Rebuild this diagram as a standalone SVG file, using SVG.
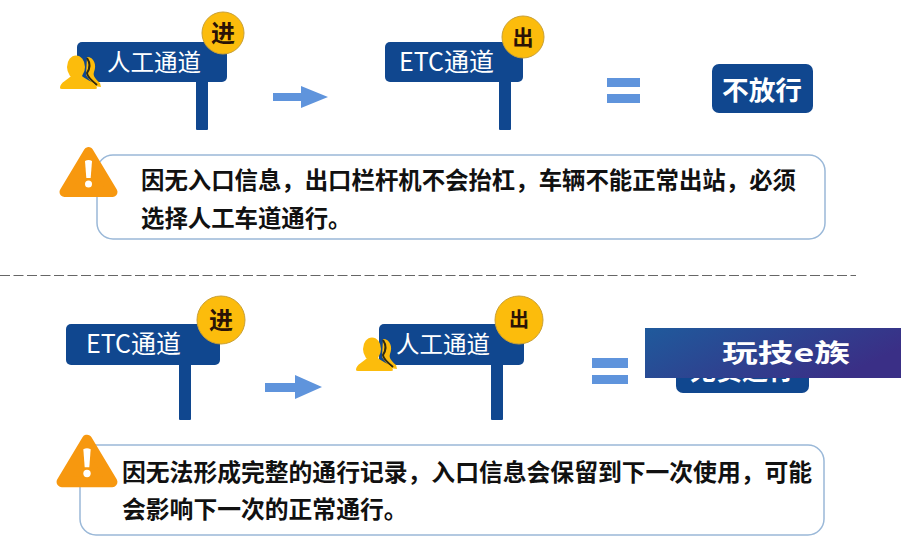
<svg xmlns="http://www.w3.org/2000/svg" width="901" height="555" viewBox="0 0 901 555">
<defs>
<linearGradient id="bannerGrad" x1="0" y1="0" x2="1" y2="0.4"><stop offset="0" stop-color="#1f5a9c"/><stop offset="1" stop-color="#3a2f86"/></linearGradient>
<g id="person"><path d="M9 -22 C16 -22 19 -14 16 -7 C15 -4 16 -1 22 4 L23 8 L16 7 L8 -4 Z" fill="#fcbc0c"/><path d="M9 -21 C13 -15 11 -9 9 -6 C9 -2 14 2 19 6" fill="none" stroke="#2f2a12" stroke-width="2"/><ellipse cx="-2" cy="-12" rx="9" ry="11.500" fill="#fcbc0c"/><path d="M-18 9 C-18 3 -10 1 -6 -4 L3 -4 C7 1 18 3 19 9 Q19 10 17 10 H-16 Q-18 10 -18 9 Z" fill="#fcbc0c"/></g>
<g id="warn"><path d="M0 -22 L24 18 H-24 Z" fill="#f7980f" stroke="#f7980f" stroke-width="10" stroke-linejoin="round"/><path d="M-3.500 -13 Q0 -15 3.500 -13 L2.200 4 H-2.200 Z" fill="#fff"/><circle cx="0" cy="10" r="3.500" fill="#fff"/></g>
</defs>
<style>
text{font-family:"Noto Sans CJK SC","Liberation Sans",sans-serif}
.navy{fill:#10478f}
.sign{fill:#fff;font-size:23.500px;text-anchor:middle}
.badge{fill:#fcbc0c;stroke:#c9a035;stroke-width:1}
.bt{fill:#2a1206;font-weight:700;text-anchor:middle}
.box{fill:#fff;stroke:#9ab8d8;stroke-width:1.500}
.body{fill:#111;font-weight:700}
.blue{fill:#5f94dc}
</style>
<rect width="901" height="555" fill="#fff"/>
<g id="sign-in-1"><rect class="navy" x="196" y="80" width="12" height="50" rx="1"/><rect class="navy" x="77" y="42" width="150" height="40" rx="5"/><text class="sign" x="154" y="71">人工通道</text><use href="#person" x="78" y="79"/><circle class="badge" cx="223" cy="33" r="21"/><text class="bt" font-size="24" x="223" y="42">进</text></g>
<g id="sign-out-1"><rect class="navy" x="499" y="80" width="12" height="50" rx="1"/><rect class="navy" x="385" y="42" width="138" height="40" rx="5"/><text class="sign" style="font-size:25px" x="446.500" y="71">ETC通道</text><circle class="badge" cx="523" cy="37" r="21"/><text class="bt" font-size="21" x="523" y="45">出</text></g>
<g id="connectors">
<path class="blue" d="M273 93 H301 V86 L328 97 L301 108 V101 H273 Z"/>
<path class="blue" d="M265 383 H295 V375 L322 387 L295 399 V392 H265 Z"/>
<line x1="0" y1="275.500" x2="856" y2="275.500" stroke="#666" stroke-width="1" stroke-dasharray="10 3.500"/>
</g>
<g id="equals-1"><rect class="blue" x="607" y="78" width="33" height="9"/><rect class="blue" x="607" y="94" width="33" height="9"/></g>
<g id="result-1"><rect class="navy" x="712" y="64" width="101" height="49" rx="7"/><text x="762" y="100" fill="#fff" font-size="26.700" font-weight="700" text-anchor="middle">不放行</text></g>
<g id="note-1"><rect class="box" x="97" y="155" width="728" height="84" rx="16"/><use href="#warn" x="88.500" y="174"/><text class="body" font-size="23.400" x="141" y="189">因无入口信息，出口栏杆机不会抬杠，车辆不能正常出站，必须</text><text class="body" font-size="23.400" x="141" y="227">选择人工车道通行。</text></g>
<g id="sign-in-2"><rect class="navy" x="179" y="362" width="12" height="58" rx="1"/><rect class="navy" x="66" y="324" width="154" height="41" rx="5"/><text class="sign" style="font-size:25px" x="133.500" y="353">ETC通道</text><circle class="badge" cx="221" cy="320" r="24"/><text class="bt" font-size="24" x="221" y="329">进</text></g>
<g id="sign-out-2"><rect class="navy" x="491" y="362" width="12" height="58" rx="1"/><rect class="navy" x="379" y="324" width="145" height="41" rx="5"/><text class="sign" x="443" y="353">人工通道</text><use href="#person" x="374" y="361"/><circle class="badge" cx="519" cy="320" r="24"/><text class="bt" font-size="20" x="519" y="327">出</text></g>
<g id="equals-2"><rect class="blue" x="592" y="358" width="36" height="10"/><rect class="blue" x="592" y="375" width="36" height="9"/></g>
<g id="result-2"><rect class="navy" x="676" y="350" width="133" height="43" rx="7"/><text x="742" y="380" fill="#fff" font-size="26" font-weight="700" text-anchor="middle">无责通行</text></g>
<g id="banner"><rect x="645" y="328" width="256" height="50" fill="url(#bannerGrad)"/><text x="722" y="362" fill="#fff" font-size="25" font-weight="700" textLength="128" lengthAdjust="spacingAndGlyphs">玩技e族</text></g>
<g id="note-2"><rect class="box" x="80" y="445" width="744" height="90" rx="16"/><use href="#warn" transform="translate(87 463) scale(1.050)"/><text class="body" font-size="23.800" x="122" y="481">因无法形成完整的通行记录，入口信息会保留到下一次使用，可能</text><text class="body" font-size="23.800" x="122" y="518">会影响下一次的正常通行。</text></g>
</svg>
